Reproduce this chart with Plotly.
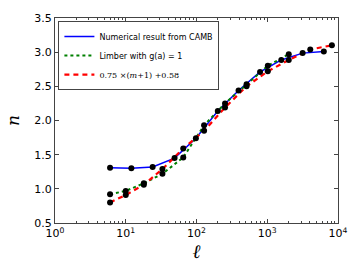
import plotly.graph_objects as go

# CAMB numerical result
l_camb = [6, 12, 24, 49, 98, 200, 393, 791, 1580, 3163, 6300]
n_camb = [1.31, 1.30, 1.32, 1.45, 1.74, 2.14, 2.44, 2.71, 2.886, 2.986, 3.01]

# Limber with g(a)=1
l_limber = [6, 10, 18, 33, 65, 128, 253, 510, 1018, 2013]
n_limber = [0.92, 0.97, 1.08, 1.22, 1.46, 1.93, 2.25, 2.53, 2.80, 2.97]

# 0.75 x (m+1) + 0.58
l_fit = [6, 10, 18, 33, 65, 128, 253, 510, 1018, 2013, 4057, 8200]
n_fit = [0.80, 0.91, 1.06, 1.29, 1.59, 1.85, 2.19, 2.50, 2.72, 2.886, 3.04, 3.10]

x_tickvals = [1, 10, 100, 1000, 10000]
x_ticktext = ["10<sup>0</sup>", "10<sup>1</sup>", "10<sup>2</sup>", "10<sup>3</sup>", "10<sup>4</sup>"]
y_tickvals = [0.5, 1.0, 1.5, 2.0, 2.5, 3.0, 3.5]

fig = go.Figure()
fig.add_trace(go.Scatter(x=l_camb, y=n_camb, mode="lines", name="Numerical result from CAMB",
                         line=dict(color="#0000ff", width=1.5)))
fig.add_trace(go.Scatter(x=l_limber, y=n_limber, mode="lines", name="Limber with g(a) = 1",
                         line=dict(color="#008000", width=2, dash="dot")))
fig.add_trace(go.Scatter(x=l_fit, y=n_fit, mode="lines",
                         name="<span style='font-family:DejaVu Serif'>0.75 ×(<i>m</i>+1) +0.58</span>",
                         line=dict(color="#ff0000", width=2.2, dash="5px,4px")))
for xs, ys in [(l_camb, n_camb), (l_limber, n_limber), (l_fit, n_fit)]:
    fig.add_trace(go.Scatter(x=xs, y=ys, mode="markers", showlegend=False,
                             marker=dict(color="black", size=6)))

axis_common = dict(showline=True, linecolor="#444", linewidth=1, mirror="allticks",
                   ticks="inside", tickcolor="#444", ticklen=4, showgrid=False, zeroline=False,
                   tickfont=dict(family="DejaVu Sans", size=11, color="black"))

fig.update_xaxes(type="log", range=[0, 4], tickvals=x_tickvals, ticktext=x_ticktext,
                 minor=dict(ticks="inside", ticklen=2, tickcolor="#444", dtick="D1", showgrid=False),
                 title=dict(text="<i>ℓ</i>", font=dict(family="DejaVu Serif", size=19, color="black"),
                            standoff=0),
                 **axis_common)
fig.update_yaxes(range=[0.5, 3.5], tickvals=y_tickvals, tickformat=".1f",
                 title=dict(text="<i>n</i>", font=dict(family="DejaVu Serif", size=17, color="black"),
                            standoff=10),
                 **axis_common)

fig.update_layout(
    width=360, height=270,
    margin=dict(l=49, r=18, t=13, b=47),
    paper_bgcolor="white", plot_bgcolor="white",
    showlegend=True,
    legend=dict(x=0.012, y=0.985, xanchor="left", yanchor="top",
                bgcolor="white", bordercolor="#444", borderwidth=1,
                font=dict(family="DejaVu Sans", size=8, color="black"),
                itemwidth=30, tracegroupgap=0),
)

fig.write_html("out.html", config={"displayModeBar": False},
               post_script="document.body.style.margin='0px';")
